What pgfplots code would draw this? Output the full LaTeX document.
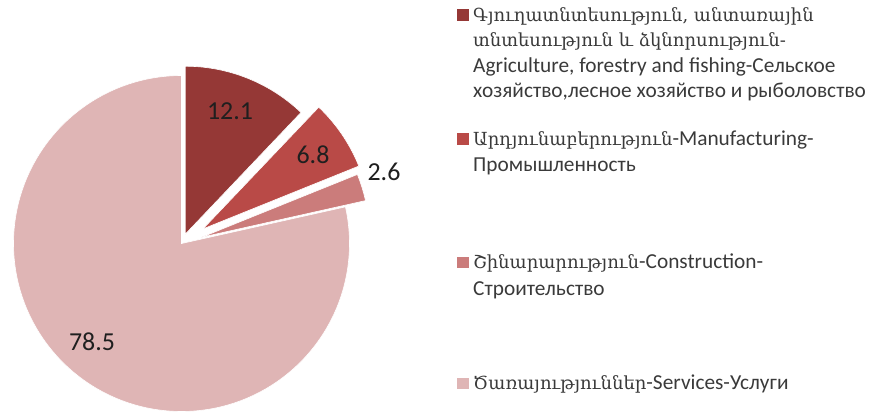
\documentclass[border=0pt]{standalone}
\usepackage{pgfplots}
\usepackage{pgfplotstable}
\pgfplotsset{compat=1.18}
\usepackage{fontspec}
\setmainfont{Carlito}
\newfontfamily\armfont[Script=Armenian,Scale=0.845]{DejaVu Serif}
\definecolor{sliceA}{HTML}{953836}
\definecolor{sliceB}{HTML}{B94A47}
\definecolor{sliceC}{HTML}{CB7C7B}
\definecolor{sliceD}{HTML}{DFB5B5}
\definecolor{txt}{HTML}{3A3A3A}

% value (percent), explosion offset (px)
\pgfplotstableread{
label value explode
Agr 12.1 10
Man 6.8 26
Con 2.6 21
Ser 78.5 0
}\piedata

\begin{document}
\begin{tikzpicture}
\begin{axis}[
  width=875bp, height=414bp, scale only axis,
  xmin=0, xmax=875, ymin=0, ymax=414, y dir=reverse,
  hide axis, clip=false,
]
\xdef\cum{0}
\pgfplotsinvokeforeach{0,...,3}{
  \pgfplotstablegetelem{#1}{value}\of\piedata \let\val\pgfplotsretval
  \pgfplotstablegetelem{#1}{explode}\of\piedata \let\ex\pgfplotsretval
  \pgfmathsetmacro\a{90-3.6*\cum}
  \pgfmathsetmacro\b{90-3.6*(\cum+\val)}
  \pgfmathsetmacro\m{(\a+\b)/2}
  \pgfmathsetmacro\ox{181.5+\ex*cos(\m)}
  \pgfmathsetmacro\oy{243.5-\ex*sin(\m)}
  \pgfmathsetmacro\ns{int(max(20,3*\val))}
  \ifcase#1 \def\col{sliceA}\or\def\col{sliceB}\or\def\col{sliceC}\else\def\col{sliceD}\fi
  \edef\doplot{\noexpand\addplot[fill=\col, draw=white, line width=0.6pt, domain=\b:\a, samples=\ns]
    ({\ox+168*cos(x)},{\oy-168*sin(x)}) -- (axis cs:\ox,\oy) -- cycle;}
  \doplot
  \pgfmathsetmacro\newcum{\cum+\val}
  \xdef\cum{\newcum}
}
% data labels
\begin{scope}[every node/.style={font=\fontsize{26}{30}\selectfont, text=black!88}]
\node at (axis cs:230,111) {12.1};
\node at (axis cs:313,155) {6.8};
\node at (axis cs:384,172) {2.6};
\node at (axis cs:92,342) {78.5};
\end{scope}
% legend
\begin{scope}[every node/.style={anchor=base west, inner sep=0pt, font=\fontsize{21.4}{25}\selectfont, text=txt}]
\fill[sliceA] (axis cs:457,9.5) rectangle (axis cs:469,21.5);
\node at (axis cs:473,21.5) {\armfont Գյուղատնտեսություն, անտառային};
\node at (axis cs:473,47) {\armfont տնտեսություն և ձկնորսություն-};
\node at (axis cs:473,72.5) {Agriculture, forestry and fishing-Сельское};
\node at (axis cs:473,98) {хозяйство,лесное хозяйство и рыболовство};
\fill[sliceB] (axis cs:457,132.5) rectangle (axis cs:469,144.5);
\node at (axis cs:473,145) {{\armfont Արդյունաբերություն}-Manufacturing-};
\node at (axis cs:473,171.5) {Промышленность};
\fill[sliceC] (axis cs:457,256.5) rectangle (axis cs:469,268);
\node at (axis cs:473,268) {{\armfont Շինարարություն}-Construction-};
\node at (axis cs:473,295) {Строительство};
\fill[sliceD] (axis cs:457,377.5) rectangle (axis cs:469,389);
\node at (axis cs:473,389) {{\armfont Ծառայություններ}-Services-Услуги};
\end{scope}
\end{axis}
\pgfresetboundingbox
\path (current axis.south west) rectangle (current axis.north east);
\end{tikzpicture}
\end{document}
